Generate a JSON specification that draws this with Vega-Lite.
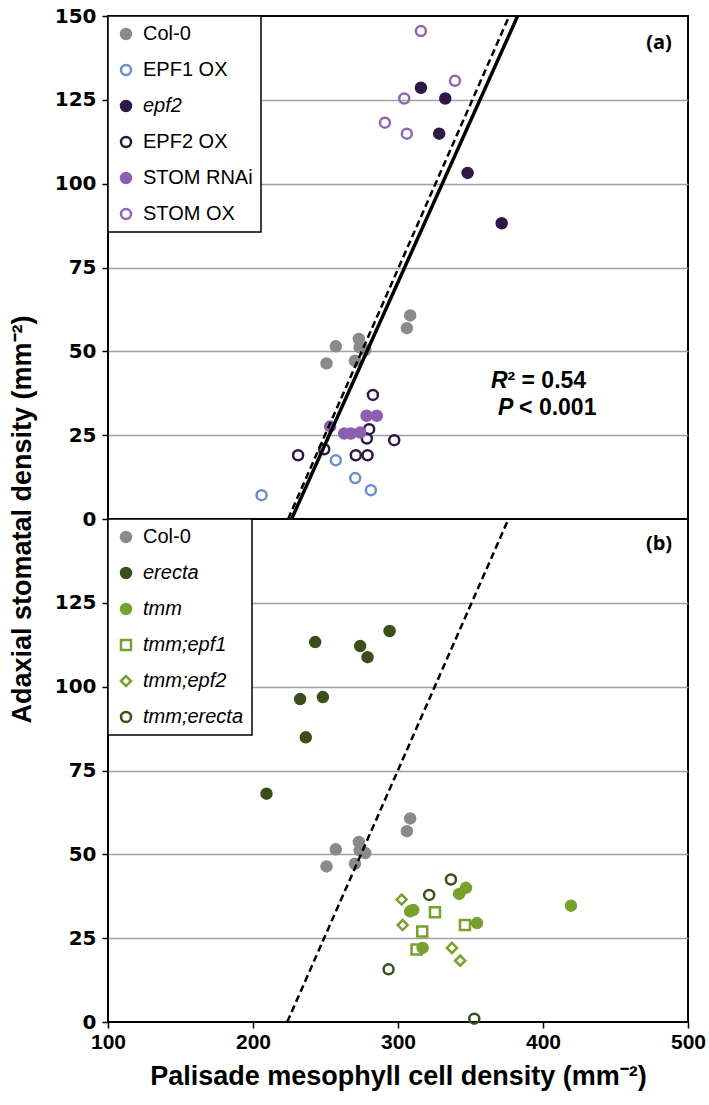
{
  "$schema": "https://vega.github.io/schema/vega-lite/v6.json",
  "background": "white",
  "padding": {"left": 7, "top": 5, "right": 5, "bottom": 5},
  "spacing": 0,
  "bounds": "flush",
  "config": {
    "view": {"stroke": "black", "strokeWidth": 2},
    "font": "Liberation Sans",
    "axis": {
      "labelFont": "Liberation Sans", "labelFontWeight": "bold", "labelFontSize": 21, "labelColor": "black",
      "titleFont": "Liberation Sans", "titleFontWeight": "bold", "titleFontSize": 27, "titleColor": "black",
      "tickColor": "black", "tickSize": 6, "tickWidth": 1.5, "domain": false, "labelFlush": false, "labelOverlap": false
    },
    "axisY": {"labelFont": "DejaVu Sans", "labelFontSize": 20, "labelPadding": 6, "titlePadding": 18},
    "legend": {
      "orient": "top-left", "offset": 0, "padding": 8, "strokeColor": "black", "strokeWidth": 1.5, "fillColor": "white",
      "labelFont": "Liberation Sans", "labelFontSize": 20, "labelColor": "black", "symbolSize": 100, "symbolStrokeWidth": 2.5,
      "rowPadding": 16, "labelOffset": 7, "labelLimit": 250, "symbolOpacity": 1
    }
  },
  "datasets": {
    "points": [
      {"panel": "a", "genotype": "Col-0", "x": 308.4, "y": 60.7},
      {"panel": "a", "genotype": "Col-0", "x": 306.1, "y": 56.9},
      {"panel": "a", "genotype": "Col-0", "x": 257.1, "y": 51.5},
      {"panel": "a", "genotype": "Col-0", "x": 273.0, "y": 53.7},
      {"panel": "a", "genotype": "Col-0", "x": 273.5, "y": 51.2},
      {"panel": "a", "genotype": "Col-0", "x": 277.4, "y": 50.4},
      {"panel": "a", "genotype": "Col-0", "x": 250.7, "y": 46.4},
      {"panel": "a", "genotype": "Col-0", "x": 270.3, "y": 47.2},
      {"panel": "a", "genotype": "EPF1 OX", "x": 205.9, "y": 7.1},
      {"panel": "a", "genotype": "EPF1 OX", "x": 257.1, "y": 17.5},
      {"panel": "a", "genotype": "EPF1 OX", "x": 270.5, "y": 12.2},
      {"panel": "a", "genotype": "EPF1 OX", "x": 281.3, "y": 8.6},
      {"panel": "a", "genotype": "epf2", "x": 315.8, "y": 128.6},
      {"panel": "a", "genotype": "epf2", "x": 332.6, "y": 125.4},
      {"panel": "a", "genotype": "epf2", "x": 328.4, "y": 114.9},
      {"panel": "a", "genotype": "epf2", "x": 348.0, "y": 103.2},
      {"panel": "a", "genotype": "epf2", "x": 371.5, "y": 88.2},
      {"panel": "a", "genotype": "EPF2 OX", "x": 282.7, "y": 37.0},
      {"panel": "a", "genotype": "EPF2 OX", "x": 280.1, "y": 26.8},
      {"panel": "a", "genotype": "EPF2 OX", "x": 278.5, "y": 24.0},
      {"panel": "a", "genotype": "EPF2 OX", "x": 297.4, "y": 23.5},
      {"panel": "a", "genotype": "EPF2 OX", "x": 249.1, "y": 20.8},
      {"panel": "a", "genotype": "EPF2 OX", "x": 231.1, "y": 19.0},
      {"panel": "a", "genotype": "EPF2 OX", "x": 270.9, "y": 19.0},
      {"panel": "a", "genotype": "EPF2 OX", "x": 279.0, "y": 19.0},
      {"panel": "a", "genotype": "STOM RNAi", "x": 253.2, "y": 27.6},
      {"panel": "a", "genotype": "STOM RNAi", "x": 262.9, "y": 25.5},
      {"panel": "a", "genotype": "STOM RNAi", "x": 267.5, "y": 25.5},
      {"panel": "a", "genotype": "STOM RNAi", "x": 273.9, "y": 25.8},
      {"panel": "a", "genotype": "STOM RNAi", "x": 278.3, "y": 30.8},
      {"panel": "a", "genotype": "STOM RNAi", "x": 285.4, "y": 30.8},
      {"panel": "a", "genotype": "STOM OX", "x": 315.8, "y": 145.5},
      {"panel": "a", "genotype": "STOM OX", "x": 339.3, "y": 130.7},
      {"panel": "a", "genotype": "STOM OX", "x": 304.3, "y": 125.4},
      {"panel": "a", "genotype": "STOM OX", "x": 291.0, "y": 118.2},
      {"panel": "a", "genotype": "STOM OX", "x": 306.1, "y": 114.9},
      {"panel": "b", "genotype": "Col-0", "x": 308.4, "y": 60.7},
      {"panel": "b", "genotype": "Col-0", "x": 306.1, "y": 56.9},
      {"panel": "b", "genotype": "Col-0", "x": 257.1, "y": 51.5},
      {"panel": "b", "genotype": "Col-0", "x": 273.0, "y": 53.7},
      {"panel": "b", "genotype": "Col-0", "x": 273.5, "y": 51.2},
      {"panel": "b", "genotype": "Col-0", "x": 277.4, "y": 50.4},
      {"panel": "b", "genotype": "Col-0", "x": 250.7, "y": 46.4},
      {"panel": "b", "genotype": "Col-0", "x": 270.3, "y": 47.2},
      {"panel": "b", "genotype": "erecta", "x": 242.9, "y": 113.3},
      {"panel": "b", "genotype": "erecta", "x": 273.9, "y": 112.1},
      {"panel": "b", "genotype": "erecta", "x": 279.0, "y": 108.8},
      {"panel": "b", "genotype": "erecta", "x": 294.2, "y": 116.6},
      {"panel": "b", "genotype": "erecta", "x": 232.5, "y": 96.3},
      {"panel": "b", "genotype": "erecta", "x": 248.2, "y": 96.9},
      {"panel": "b", "genotype": "erecta", "x": 236.4, "y": 84.9},
      {"panel": "b", "genotype": "erecta", "x": 209.3, "y": 68.1},
      {"panel": "b", "genotype": "tmm", "x": 342.2, "y": 38.2},
      {"panel": "b", "genotype": "tmm", "x": 346.9, "y": 40.0},
      {"panel": "b", "genotype": "tmm", "x": 308.4, "y": 33.0},
      {"panel": "b", "genotype": "tmm", "x": 310.5, "y": 33.4},
      {"panel": "b", "genotype": "tmm", "x": 354.5, "y": 29.5},
      {"panel": "b", "genotype": "tmm", "x": 317.0, "y": 22.1},
      {"panel": "b", "genotype": "tmm", "x": 419.3, "y": 34.7},
      {"panel": "b", "genotype": "tmm;epf1", "x": 325.5, "y": 32.7},
      {"panel": "b", "genotype": "tmm;epf1", "x": 316.7, "y": 27.0},
      {"panel": "b", "genotype": "tmm;epf1", "x": 312.8, "y": 21.6},
      {"panel": "b", "genotype": "tmm;epf1", "x": 346.2, "y": 28.9},
      {"panel": "b", "genotype": "tmm;epf2", "x": 302.5, "y": 36.5},
      {"panel": "b", "genotype": "tmm;epf2", "x": 303.2, "y": 28.9},
      {"panel": "b", "genotype": "tmm;epf2", "x": 337.2, "y": 22.1},
      {"panel": "b", "genotype": "tmm;epf2", "x": 342.9, "y": 18.3},
      {"panel": "b", "genotype": "tmm;erecta", "x": 336.5, "y": 42.5},
      {"panel": "b", "genotype": "tmm;erecta", "x": 321.5, "y": 37.9},
      {"panel": "b", "genotype": "tmm;erecta", "x": 293.5, "y": 15.7},
      {"panel": "b", "genotype": "tmm;erecta", "x": 352.6, "y": 1.0}
    ],
    "lines": [
      {"panel": "a", "style": "solid", "x": 226.6, "y": 0},
      {"panel": "a", "style": "solid", "x": 382.5, "y": 150},
      {"panel": "a", "style": "dashed", "x": 224.2, "y": 0},
      {"panel": "a", "style": "dashed", "x": 376.7, "y": 150},
      {"panel": "b", "style": "dashed", "x": 223.6, "y": 0},
      {"panel": "b", "style": "dashed", "x": 376.2, "y": 150}
    ],
    "tags": [
      {"panel": "a", "text": "(a)", "x": 480, "y": 142},
      {"panel": "b", "text": "(b)", "x": 480, "y": 142.5}
    ],
    "statsItalic": [
      {"panel": "a", "text": "R", "x": 364.1, "y": 41.2},
      {"panel": "a", "text": "P", "x": 368.9, "y": 33.2}
    ],
    "statsPlain": [
      {"panel": "a", "text": "² = 0.54", "x": 375.5, "y": 41.2},
      {"panel": "a", "text": "< 0.001", "x": 383.5, "y": 33.2}
    ]
  },
  "vconcat": [
    {
      "width": 580,
      "height": 503,
      "encoding": {
        "x": {"field": "x", "type": "quantitative", "scale": {"domain": [100, 500], "nice": false, "zero": false}, "axis": null},
        "y": {
          "field": "y", "type": "quantitative", "scale": {"domain": [0, 150], "nice": false},
          "axis": {
            "values": [0, 25, 50, 75, 100, 125, 150], "grid": true, "gridColor": "#a0a0a0", "gridWidth": 1.5,
            "gridOpacity": {"condition": {"test": "datum.value === 0 || datum.value === 150", "value": 0}, "value": 1},
            "title": "Adaxial stomatal density (mm⁻²)", "titleAnchor": "start", "titleAlign": "center"
          }
        }
      },
      "layer": [
        {
          "data": {"name": "points"},
          "transform": [{"filter": "datum.panel === 'a'"}],
          "mark": {"type": "point", "opacity": 1, "strokeWidth": 2.5, "size": 100},
          "encoding": {
            "fill": {
              "field": "genotype", "type": "nominal",
              "scale": {"domain": ["Col-0", "EPF1 OX", "epf2", "EPF2 OX", "STOM RNAi", "STOM OX"], "range": ["#8a8a8a", "transparent", "#2d1846", "transparent", "#8d5fb1", "transparent"]},
              "legend": {"title": null, "encode": {"labels": {"update": {"fontStyle": {"signal": "indexof(['epf2','erecta','tmm','tmm;epf1','tmm;epf2','tmm;erecta'], datum.label) >= 0 ? 'italic' : 'normal'"}}}}}
            },
            "stroke": {
              "field": "genotype", "type": "nominal",
              "scale": {"domain": ["Col-0", "EPF1 OX", "epf2", "EPF2 OX", "STOM RNAi", "STOM OX"], "range": ["#8a8a8a", "#6d8fc7", "#2d1846", "#2d1846", "#8d5fb1", "#8f66b5"]},
              "legend": {"title": null, "encode": {"labels": {"update": {"fontStyle": {"signal": "indexof(['epf2','erecta','tmm','tmm;epf1','tmm;epf2','tmm;erecta'], datum.label) >= 0 ? 'italic' : 'normal'"}}}}}
            }
          }
        },
        {
          "data": {"name": "lines"},
          "transform": [{"filter": "datum.panel === 'a' && datum.style === 'solid'"}],
          "mark": {"type": "line", "color": "black", "strokeWidth": 3.5, "clip": true},
          "encoding": {}
        },
        {
          "data": {"name": "lines"},
          "transform": [{"filter": "datum.panel === 'a' && datum.style === 'dashed'"}],
          "mark": {"type": "line", "color": "black", "strokeWidth": 2.5, "strokeDash": [7, 4], "clip": true},
          "encoding": {}
        },
        {
          "data": {"name": "tags"},
          "transform": [{"filter": "datum.panel === 'a'"}],
          "mark": {"type": "text", "font": "Open Sans", "fontWeight": "bold", "fontSize": 20, "color": "black", "align": "center", "baseline": "middle"},
          "encoding": {"text": {"field": "text"}}
        },
        {
          "data": {"name": "statsItalic"},
          "mark": {"type": "text", "font": "Liberation Sans", "fontWeight": "bold", "fontStyle": "italic", "fontSize": 23, "color": "black", "align": "left", "baseline": "middle"},
          "encoding": {"text": {"field": "text"}}
        },
        {
          "data": {"name": "statsPlain"},
          "mark": {"type": "text", "font": "Liberation Sans", "fontWeight": "bold", "fontSize": 23, "color": "black", "align": "left", "baseline": "middle"},
          "encoding": {"text": {"field": "text"}}
        }
      ]
    },
    {
      "width": 580,
      "height": 503,
      "encoding": {
        "x": {
          "field": "x", "type": "quantitative", "scale": {"domain": [100, 500], "nice": false, "zero": false},
          "axis": {"values": [100, 200, 300, 400, 500], "title": "Palisade mesophyll cell density (mm⁻²)", "labelPadding": 3, "titlePadding": 11, "grid": false}
        },
        "y": {
          "field": "y", "type": "quantitative", "scale": {"domain": [0, 150], "nice": false},
          "axis": {
            "values": [0, 25, 50, 75, 100, 125], "grid": true, "gridColor": "#a0a0a0", "gridWidth": 1.5,
            "gridOpacity": {"condition": {"test": "datum.value === 0", "value": 0}, "value": 1},
            "title": null
          }
        }
      },
      "layer": [
        {
          "data": {"name": "points"},
          "transform": [{"filter": "datum.panel === 'b'"}],
          "mark": {"type": "point", "opacity": 1, "strokeWidth": 2.5, "size": 100},
          "encoding": {
            "fill": {
              "field": "genotype", "type": "nominal",
              "scale": {"domain": ["Col-0", "erecta", "tmm", "tmm;epf1", "tmm;epf2", "tmm;erecta"], "range": ["#8a8a8a", "#3a4f19", "#77a12c", "transparent", "transparent", "transparent"]},
              "legend": {"title": null, "encode": {"labels": {"update": {"fontStyle": {"signal": "indexof(['epf2','erecta','tmm','tmm;epf1','tmm;epf2','tmm;erecta'], datum.label) >= 0 ? 'italic' : 'normal'"}}}}}
            },
            "stroke": {
              "field": "genotype", "type": "nominal",
              "scale": {"domain": ["Col-0", "erecta", "tmm", "tmm;epf1", "tmm;epf2", "tmm;erecta"], "range": ["#8a8a8a", "#3a4f19", "#77a12c", "#77a12c", "#77a12c", "#3a4f19"]},
              "legend": {"title": null, "encode": {"labels": {"update": {"fontStyle": {"signal": "indexof(['epf2','erecta','tmm','tmm;epf1','tmm;epf2','tmm;erecta'], datum.label) >= 0 ? 'italic' : 'normal'"}}}}}
            },
            "shape": {
              "field": "genotype", "type": "nominal",
              "scale": {"domain": ["Col-0", "erecta", "tmm", "tmm;epf1", "tmm;epf2", "tmm;erecta"], "range": ["circle", "circle", "circle", "square", "diamond", "circle"]},
              "legend": {"title": null, "encode": {"labels": {"update": {"fontStyle": {"signal": "indexof(['epf2','erecta','tmm','tmm;epf1','tmm;epf2','tmm;erecta'], datum.label) >= 0 ? 'italic' : 'normal'"}}}}}
            }
          }
        },
        {
          "data": {"name": "lines"},
          "transform": [{"filter": "datum.panel === 'b'"}],
          "mark": {"type": "line", "color": "black", "strokeWidth": 2.5, "strokeDash": [7, 4], "clip": true},
          "encoding": {}
        },
        {
          "data": {"name": "tags"},
          "transform": [{"filter": "datum.panel === 'b'"}],
          "mark": {"type": "text", "font": "Open Sans", "fontWeight": "bold", "fontSize": 20, "color": "black", "align": "center", "baseline": "middle"},
          "encoding": {"text": {"field": "text"}}
        }
      ]
    }
  ],
  "resolve": {"scale": {"fill": "independent", "stroke": "independent", "shape": "independent"}}
}
